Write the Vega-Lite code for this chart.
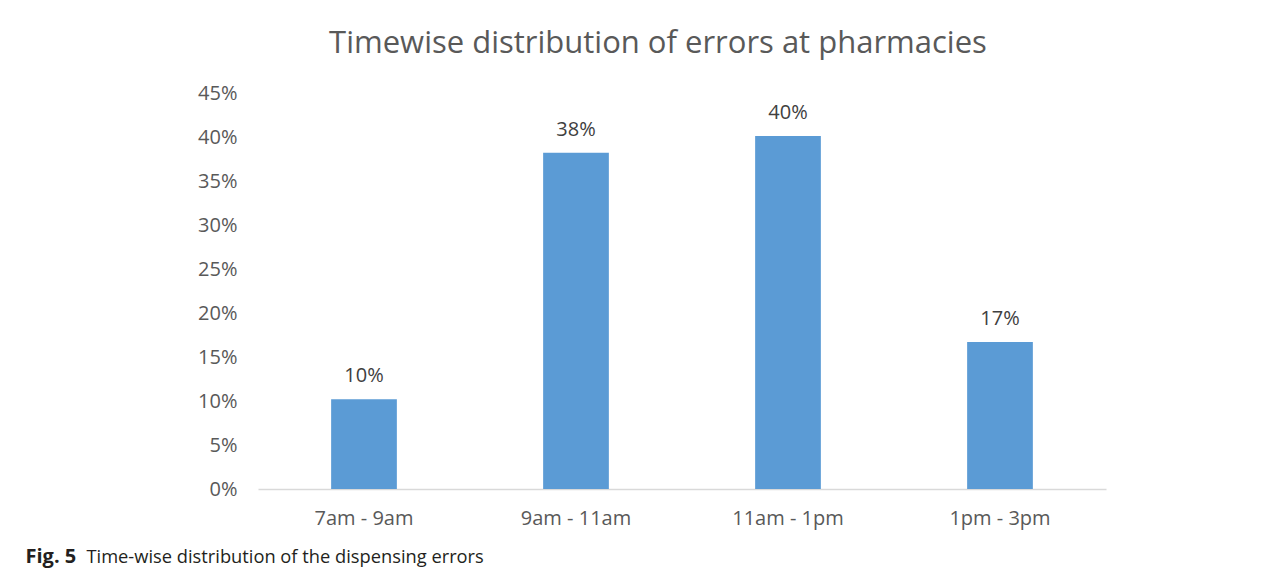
{
  "$schema": "https://vega.github.io/schema/vega-lite/v6.json",
  "width": 848,
  "height": 396,
  "autosize": {"type": "none"},
  "padding": {"left": 258, "top": 93, "right": 181, "bottom": 82},
  "background": "white",
  "title": {
    "text": "Timewise distribution of errors at pharmacies",
    "anchor": "middle",
    "frame": "group",
    "dx": -24,
    "offset": 23,
    "fontSize": 31,
    "font": "Open Sans",
    "fontWeight": "normal",
    "color": "#595959"
  },
  "data": {
    "values": [
      {"time": "7am - 9am", "share": 0.102},
      {"time": "9am - 11am", "share": 0.382},
      {"time": "11am - 1pm", "share": 0.401},
      {"time": "1pm - 3pm", "share": 0.167}
    ]
  },
  "encoding": {
    "x": {
      "field": "time",
      "type": "nominal",
      "sort": null,
      "scale": {"paddingInner": 0.69, "paddingOuter": 0.345},
      "axis": {
        "title": "Time-wise distribution of the dispensing errors",
        "titleX": -172,
        "titleY": 73,
        "titleAlign": "left",
        "titleAnchor": "start",
        "titleBaseline": "alphabetic",
        "titleFont": "Open Sans",
        "titleFontSize": 18.3,
        "titleFontWeight": "normal",
        "titleColor": "#231f20",
        "labelAngle": 0,
        "labelFont": "Open Sans",
        "labelFontSize": 20,
        "labelColor": "#595959",
        "labelPadding": 19,
        "ticks": false,
        "domainColor": "#d9d9d9",
        "domainWidth": 1.5
      }
    },
    "y": {
      "field": "share",
      "type": "quantitative",
      "scale": {"domain": [0, 0.45]},
      "axis": {
        "title": "Fig. 5",
        "titleX": -233,
        "titleY": 469,
        "titleAngle": 0,
        "titleAlign": "left",
        "titleAnchor": "start",
        "titleBaseline": "alphabetic",
        "titleFont": "Open Sans",
        "titleFontSize": 20,
        "titleFontWeight": "bold",
        "titleColor": "#231f20",
        "values": [0, 0.05, 0.1, 0.15, 0.2, 0.25, 0.3, 0.35, 0.4, 0.45],
        "format": ".0%",
        "labelFont": "Open Sans",
        "labelFontSize": 20,
        "labelColor": "#595959",
        "labelPadding": 21,
        "ticks": false,
        "domain": false,
        "grid": false
      }
    }
  },
  "layer": [
    {"mark": {"type": "bar", "color": "#5b9bd5"}},
    {
      "mark": {"type": "text", "baseline": "alphabetic", "dy": -17, "font": "Open Sans", "fontSize": 20, "color": "#404040"},
      "encoding": {"text": {"field": "share", "type": "quantitative", "format": ".0%"}}
    }
  ],
  "config": {"view": {"stroke": null}}
}
